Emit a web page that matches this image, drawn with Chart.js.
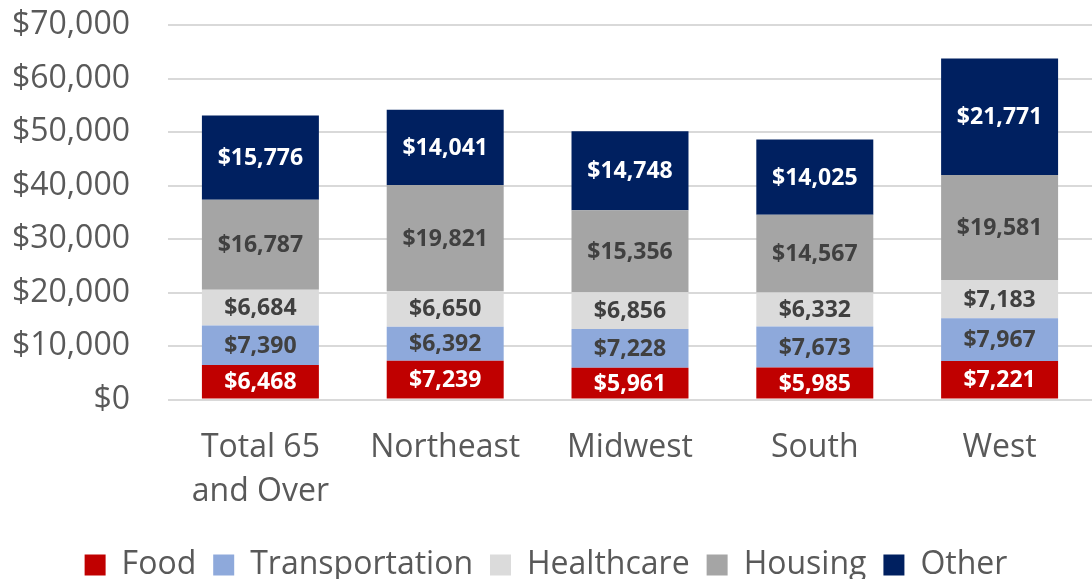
<!DOCTYPE html>
<html>
<head>
<meta charset="utf-8">
<script src="https://cdn.jsdelivr.net/npm/chart.js@4"></script>
<style>
    html, body { margin: 0; padding: 0; background: #fff; }
    #wrap { width: 1092px; height: 579px; }
</style>
</head>
<body>
<div id="wrap"><canvas id="spendChart"></canvas></div>
<script>
var categories = [['Total 65', 'and Over'], 'Northeast', 'Midwest', 'South', 'West'];
var food = [6468, 7239, 5961, 5985, 7221];
var transportation = [7390, 6392, 7228, 7673, 7967];
var healthcare = [6684, 6650, 6856, 6332, 7183];
var housing = [16787, 19821, 15356, 14567, 19581];
var other = [15776, 14041, 14748, 14025, 21771];

var FONT = "'Open Sans', sans-serif";

function money(v) {
    return '$' + v.toLocaleString('en-US');
}

// Draw value labels centred in each segment
var segmentLabels = {
    id: 'segmentLabels',
    afterDatasetsDraw: function(chart) {
        var ctx = chart.ctx;
        ctx.save();
        ctx.font = 'bold 23px ' + FONT;
        ctx.textAlign = 'center';
        ctx.textBaseline = 'middle';
        chart.data.datasets.forEach(function(ds, i) {
            var meta = chart.getDatasetMeta(i);
            meta.data.forEach(function(bar, j) {
                var mid = (bar.y + bar.base) / 2;
                ctx.fillStyle = ds.labelColor;
                ctx.fillText(money(ds.data[j]), bar.x, mid + 1);
            });
        });
        ctx.restore();
    }
};

function series(label, data, color, labelColor) {
    return {
        label: label,
        data: data,
        backgroundColor: color,
        borderWidth: 0,
        labelColor: labelColor,
        categoryPercentage: 1,
        barPercentage: 0.633
    };
}

new Chart(document.getElementById('spendChart'), {
    type: 'bar',
    data: {
        labels: categories,
        datasets: [
            series('Food', food, '#C00000', '#FFFFFF'),
            series('Transportation', transportation, '#8EA9DB', '#404040'),
            series('Healthcare', healthcare, '#DBDBDB', '#404040'),
            series('Housing', housing, '#A5A5A5', '#404040'),
            series('Other', other, '#002060', '#FFFFFF')
        ]
    },
    options: {
        responsive: true,
        maintainAspectRatio: false,
        animation: false,
        layout: { padding: { top: 0, right: 0, left: 0, bottom: -12 } },
        scales: {
            x: {
                stacked: true,
                grid: { display: false },
                border: { display: false },
                ticks: { color: '#595959', font: { family: FONT, size: 32, lineHeight: 1.35 }, padding: 19, maxRotation: 0 }
            },
            y: {
                stacked: true,
                min: 0,
                max: 70000,
                grid: { color: '#D9D9D9', lineWidth: 2, drawTicks: false },
                border: { display: false },
                ticks: {
                    stepSize: 10000,
                    color: '#595959',
                    padding: 38,
                    font: { family: FONT, size: 32 },
                    callback: function(v) { return money(v); }
                },
                afterFit: function(scale) {
                    scale.width = 168;
                    scale.paddingTop = 25;
                    scale.paddingBottom = 0;
                }
            }
        },
        plugins: {
            legend: {
                position: 'bottom',
                labels: {
                    color: '#595959',
                    boxWidth: 21,
                    boxHeight: 21,
                    padding: 17,
                    font: { family: FONT, size: 32 }
                }
            },
            tooltip: { enabled: false }
        }
    },
    plugins: [segmentLabels]
});
</script>
</body>
</html>
